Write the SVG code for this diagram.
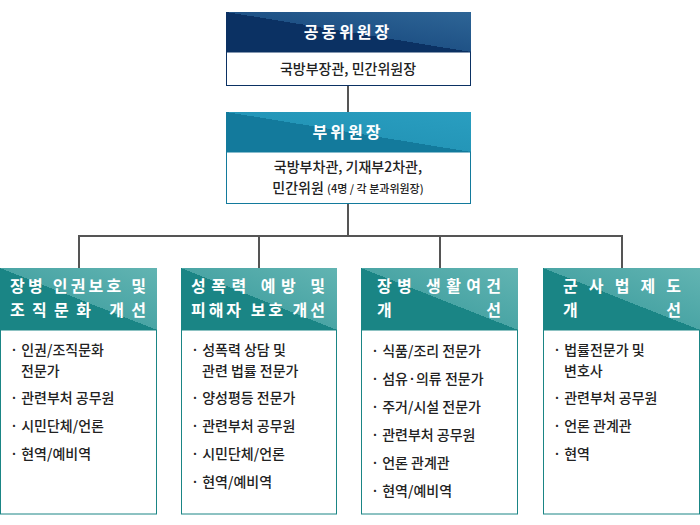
<svg xmlns="http://www.w3.org/2000/svg" width="700" height="525" viewBox="0 0 700 525">
<style>
text{font-family:"Noto Sans CJK KR","Noto Sans",sans-serif}
.h{fill:#fff;font-size:16px;font-weight:bold}
.b{fill:#222;font-size:14px;font-weight:500}
.c{text-anchor:middle}
.bx{fill:#fff}
.ln{stroke:#555;stroke-width:2;fill:none}
</style>
<defs>
<linearGradient id="gn" x1="0" y1="1" x2="1" y2="0"><stop offset="0.5" stop-color="#0b3163"/><stop offset="0.5" stop-color="#1f5286"/><stop offset="1" stop-color="#2e6596"/></linearGradient>
<linearGradient id="gb" x1="0" y1="1" x2="1" y2="0"><stop offset="0.5" stop-color="#137a9c"/><stop offset="0.5" stop-color="#2496b8"/><stop offset="1" stop-color="#2a9ec0"/></linearGradient>
<linearGradient id="gt" x1="0" y1="1" x2="1" y2="0"><stop offset="0.5" stop-color="#1a8585"/><stop offset="0.5" stop-color="#4aa5a5"/><stop offset="1" stop-color="#62b4b2"/></linearGradient>
</defs>
<g id="connectors">
<path class="ln" d="M348 86V112M348 204V236M79 236H622M79 235V268M259 235V268M440 235V268M622 235V268"/>
</g>
<g id="n1">
<rect x="226" y="12" width="245" height="40" fill="url(#gn)"/>
<rect x="226.5" y="52" width="244" height="33.5" class="bx" stroke="#0b3163"/>
<text x="348" y="38" class="h c" letter-spacing="3">공동위원장</text>
<text x="348" y="74" class="b c">국방부장관, 민간위원장</text>
</g>
<g id="n2">
<rect x="226" y="112" width="245" height="40" fill="url(#gb)"/>
<rect x="226.5" y="152" width="244" height="51.5" class="bx" stroke="#137a9c"/>
<text x="348" y="138" class="h c" letter-spacing="3">부위원장</text>
<text x="348" y="172" class="b c">국방부차관, 기재부2차관,</text>
<text x="348" y="193" class="b c">민간위원 <tspan font-size="11">(4명 / 각 분과위원장)</tspan></text>
</g>
<g id="n3">
<rect x="0" y="268" width="157" height="62" fill="url(#gt)"/>
<rect x="0.5" y="330" width="156" height="184" class="bx" stroke="#1a8585"/>
<text x="10" y="292" class="h" textLength="136" lengthAdjust="spacing">장병 인권보호 및</text>
<text x="10" y="316" class="h" textLength="136" lengthAdjust="spacing">조직문화 개선</text>
<text x="10" y="355" class="b">· 인권/조직문화</text>
<text x="21" y="376" class="b">전문가</text>
<text x="10" y="403" class="b">· 관련부처 공무원</text>
<text x="10" y="431" class="b">· 시민단체/언론</text>
<text x="10" y="459" class="b">· 현역/예비역</text>
</g>
<g id="n4">
<rect x="181" y="268" width="156" height="62" fill="url(#gt)"/>
<rect x="181.5" y="330" width="155" height="184" class="bx" stroke="#1a8585"/>
<text x="191" y="292" class="h" textLength="134" lengthAdjust="spacing">성폭력 예방 및</text>
<text x="191" y="316" class="h" textLength="134" lengthAdjust="spacing">피해자 보호 개선</text>
<text x="191" y="355" class="b">· 성폭력 상담 및</text>
<text x="202" y="376" class="b">관련 법률 전문가</text>
<text x="191" y="403" class="b">· 양성평등 전문가</text>
<text x="191" y="431" class="b">· 관련부처 공무원</text>
<text x="191" y="459" class="b">· 시민단체/언론</text>
<text x="191" y="487" class="b">· 현역/예비역</text>
</g>
<g id="n5">
<rect x="361" y="268" width="157" height="62" fill="url(#gt)"/>
<rect x="361.5" y="330" width="156" height="184" class="bx" stroke="#1a8585"/>
<text x="377" y="292" class="h" textLength="124" lengthAdjust="spacing">장병 생활여건</text>
<text x="377" y="316" class="h" textLength="124" lengthAdjust="spacing">개 선</text>
<text x="371" y="356" class="b">· 식품/조리 전문가</text>
<text x="371" y="384" class="b">· 섬유·의류 전문가</text>
<text x="371" y="412" class="b">· 주거/시설 전문가</text>
<text x="371" y="440" class="b">· 관련부처 공무원</text>
<text x="371" y="468" class="b">· 언론 관계관</text>
<text x="371" y="496" class="b">· 현역/예비역</text>
</g>
<g id="n6">
<rect x="543" y="268" width="157" height="62" fill="url(#gt)"/>
<rect x="543.5" y="330" width="156" height="184" class="bx" stroke="#1a8585"/>
<text x="563" y="292" class="h" textLength="118" lengthAdjust="spacing">군사법제도</text>
<text x="563" y="316" class="h" textLength="118" lengthAdjust="spacing">개 선</text>
<text x="553" y="355" class="b">· 법률전문가 및</text>
<text x="564" y="376" class="b">변호사</text>
<text x="553" y="403" class="b">· 관련부처 공무원</text>
<text x="553" y="431" class="b">· 언론 관계관</text>
<text x="553" y="459" class="b">· 현역</text>
</g>
</svg>
